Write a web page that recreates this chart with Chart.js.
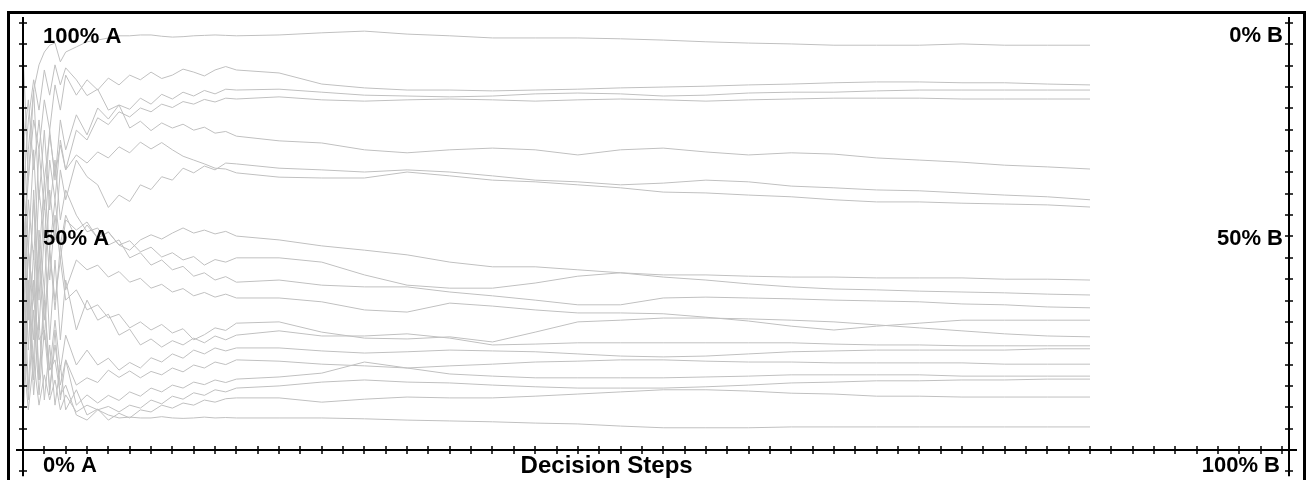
<!DOCTYPE html>
<html>
<head>
<meta charset="utf-8">
<script src="https://cdn.jsdelivr.net/npm/chart.js@4/dist/chart.umd.min.js"></script>
<style>
	html, body { margin: 0; padding: 0; background: #fff; }
	#frame { position: absolute; left: 7px; top: 11px; width: 1293px; height: 520px; border: 3px solid #000; }
	#wrap { position: absolute; left: 0; top: 0; width: 1312px; height: 480px; }
</style>
</head>
<body>
<div id="frame"></div>
<div id="wrap"><canvas id="canRuns" width="1312" height="480"></canvas></div>
<script>
'use strict'

//----------------------------------------------------------------------
// data : share of choice A [%] per decision step (x = step in tick units)
const STEPS = [0, 0.25, 0.5, 0.75, 1, 1.25, 1.5, 1.75, 2,
	2.5, 3, 3.5, 4, 4.5, 5, 5.5, 6, 6.5, 7, 7.5, 8, 8.5, 9, 9.5, 10,
	12, 14, 16, 18, 20, 22, 24, 26, 28, 30, 32, 34, 36, 38, 40, 42, 44, 46, 48, 50];

const run01 = [35.1, 70.3, 84.3, 90.2, 93.2, 94.8, 95.3, 90.9, 93.2,
	94.4, 95.6, 96.0, 96.5, 97.0, 97.0, 97.2, 97.2, 96.9, 96.7, 96.8, 97.0, 97.1, 97.2, 97.1, 97.0,
	97.2, 97.7, 98.1, 97.4, 97.0, 96.5, 96.5, 96.5, 96.3, 96.0, 95.6, 95.3, 95.1, 94.8, 94.8, 94.8, 95.1, 94.8, 94.8, 94.8];
const run02 = [46.8, 63.2, 77.3, 70.3, 82.0, 74.9, 85.5, 79.6, 87.8,
	83.1, 86.7, 84.3, 87.1, 85.5, 87.8, 86.7, 88.5, 87.0, 87.8, 89.2, 88.5, 87.6, 89.0, 89.8, 89.0,
	88.3, 85.7, 84.8, 84.3, 84.3, 84.1, 84.3, 84.5, 84.8, 85.0, 85.2, 85.5, 85.7, 86.0, 86.2, 86.2, 86.0, 86.0, 85.7, 85.5];
const run03 = [23.4, 58.6, 44.5, 70.3, 56.2, 74.9, 63.2, 77.3, 70.3,
	78.5, 73.8, 80.1, 77.5, 80.8, 79.8, 82.4, 81.0, 83.3, 82.2, 83.8, 82.9, 84.2, 83.4, 84.5, 84.3,
	84.5, 83.8, 83.1, 82.9, 82.7, 82.9, 83.4, 83.6, 83.4, 82.9, 83.1, 83.6, 83.8, 83.8, 84.1, 84.3, 84.3, 84.3, 84.3, 84.3];
const run04 = [16.4, 46.8, 35.1, 60.9, 49.2, 67.9, 58.6, 72.6, 65.6,
	74.9, 72.6, 77.8, 76.2, 79.2, 78.0, 80.1, 79.2, 81.0, 80.2, 81.6, 81.0, 82.1, 81.5, 82.4, 82.2,
	82.7, 82.0, 81.7, 82.0, 82.2, 82.0, 81.7, 82.0, 82.2, 82.0, 81.7, 82.0, 82.2, 82.4, 82.4, 82.4, 82.2, 82.2, 82.2, 82.2];
const run05 = [58.6, 77.3, 86.7, 79.6, 89.0, 83.1, 90.2, 85.5, 89.5,
	86.7, 83.0, 84.5, 79.6, 80.8, 75.4, 77.0, 74.8, 76.6, 75.4, 76.3, 74.9, 75.6, 74.2, 74.6, 73.5,
	72.4, 71.9, 70.3, 69.6, 70.3, 70.7, 70.3, 69.1, 70.3, 70.7, 69.8, 69.1, 69.6, 69.3, 68.4, 67.9, 67.4, 66.7, 66.3, 65.8];
const run06 = [7.0, 35.1, 21.1, 51.5, 37.5, 60.9, 49.2, 65.6, 58.6,
	67.9, 64.0, 62.1, 56.8, 59.7, 58.2, 62.1, 61.0, 64.0, 63.2, 66.0, 64.9, 66.5, 65.6, 67.2, 67.0,
	66.0, 65.6, 65.1, 65.6, 65.1, 64.2, 63.2, 62.8, 62.1, 62.5, 63.2, 62.8, 61.8, 61.4, 60.9, 60.7, 60.2, 59.7, 59.3, 58.6];
const run07 = [70.3, 82.0, 65.6, 77.3, 63.2, 73.8, 64.4, 71.4, 65.6,
	69.1, 67.2, 69.8, 68.4, 71.0, 69.6, 72.1, 70.5, 72.0, 70.3, 68.8, 67.9, 67.0, 66.0, 65.8, 64.9,
	63.9, 63.7, 63.7, 65.1, 64.2, 63.2, 62.8, 62.1, 61.4, 60.4, 60.2, 59.7, 59.3, 58.6, 58.1, 58.1, 57.8, 57.6, 57.4, 56.9];
const run08 = [82.0, 46.8, 70.3, 44.5, 63.2, 46.8, 58.6, 48.0, 55.0,
	49.2, 52.7, 49.6, 51.1, 48.0, 46.8, 49.2, 50.4, 49.4, 50.8, 52.0, 50.8, 51.5, 50.6, 51.2, 50.1,
	49.2, 47.8, 46.8, 45.7, 44.0, 42.9, 42.9, 42.2, 41.5, 41.0, 41.0, 40.7, 40.5, 40.5, 40.3, 40.3, 40.3, 40.0, 40.0, 39.8];
const run09 = [58.6, 30.4, 60.9, 35.1, 58.6, 39.8, 55.0, 44.5, 53.9,
	51.5, 53.4, 49.6, 51.0, 48.0, 49.0, 46.4, 47.5, 45.2, 46.2, 44.5, 45.3, 43.3, 44.6, 44.0, 45.0,
	45.0, 44.0, 41.0, 38.6, 37.9, 37.9, 39.1, 40.7, 41.5, 40.5, 39.8, 38.9, 38.2, 37.7, 37.5, 37.2, 37.0, 36.8, 36.5, 36.3];
const run10 = [93.7, 63.2, 84.3, 58.6, 74.9, 56.2, 67.9, 53.9, 60.9,
	55.0, 51.1, 52.0, 48.0, 49.2, 45.0, 46.2, 43.3, 44.5, 42.2, 43.0, 40.7, 41.5, 39.8, 40.6, 39.3,
	39.8, 38.6, 38.2, 38.2, 37.0, 36.1, 35.1, 34.0, 34.0, 35.6, 35.8, 35.6, 35.4, 35.1, 34.9, 34.7, 34.2, 34.0, 33.5, 33.3];
const run11 = [7.0, 39.8, 16.4, 44.5, 25.8, 46.8, 32.8, 48.0, 37.5,
	44.5, 42.2, 43.3, 40.5, 41.8, 39.3, 40.2, 37.9, 38.8, 37.0, 37.8, 36.1, 36.9, 35.8, 36.5, 35.6,
	35.6, 34.7, 32.8, 32.3, 34.4, 33.7, 32.8, 32.1, 32.1, 31.9, 31.1, 30.2, 29.0, 28.1, 29.0, 29.7, 30.4, 30.4, 30.4, 30.4];
const run12 = [16.4, 46.8, 25.8, 49.2, 30.4, 46.8, 35.1, 44.5, 35.1,
	37.5, 32.8, 34.0, 30.9, 31.8, 28.6, 30.0, 28.1, 29.4, 27.4, 28.4, 25.8, 27.0, 28.6, 28.0, 29.7,
	30.0, 27.6, 26.2, 26.0, 26.5, 25.3, 27.6, 30.0, 30.4, 30.9, 30.9, 30.7, 30.4, 30.0, 29.3, 28.6, 27.9, 27.2, 26.7, 26.5];
const run13 = [70.3, 35.1, 58.6, 28.1, 51.5, 25.8, 44.5, 25.8, 39.8,
	28.1, 35.1, 30.4, 31.8, 26.9, 28.3, 24.6, 26.0, 24.1, 25.6, 24.6, 26.2, 25.1, 26.7, 25.8, 26.9,
	27.9, 26.7, 26.7, 27.2, 26.2, 24.6, 24.8, 25.1, 25.1, 25.1, 25.1, 25.1, 25.1, 24.8, 24.6, 24.6, 24.4, 24.4, 24.4, 24.4];
const run14 = [46.8, 14.1, 39.8, 16.4, 35.1, 18.7, 30.4, 18.7, 26.9,
	19.9, 23.4, 19.9, 21.5, 18.7, 20.5, 19.2, 21.6, 20.6, 22.5, 21.5, 23.4, 22.5, 23.9, 23.2, 23.9,
	23.9, 23.2, 22.7, 23.0, 23.4, 23.2, 23.0, 22.5, 22.0, 21.8, 22.0, 22.5, 23.0, 23.2, 23.4, 23.4, 23.4, 23.4, 23.7, 23.7];
const run15 = [35.1, 11.7, 32.8, 12.9, 28.1, 14.1, 24.6, 15.2, 21.1,
	15.2, 16.9, 15.8, 18.7, 17.0, 18.5, 16.9, 18.4, 17.6, 19.2, 18.3, 19.9, 19.2, 20.6, 20.0, 21.1,
	20.8, 20.1, 19.7, 19.2, 19.7, 20.1, 20.6, 20.8, 21.1, 21.1, 20.8, 20.6, 20.6, 20.4, 20.4, 20.4, 20.4, 20.1, 20.1, 20.1];
const run16 = [58.6, 23.4, 46.8, 16.4, 37.5, 12.9, 28.1, 11.7, 21.1,
	10.5, 12.9, 11.0, 12.8, 11.6, 13.6, 12.6, 14.5, 13.6, 15.2, 14.5, 15.9, 15.3, 16.4, 15.8, 16.6,
	17.1, 18.0, 20.6, 19.2, 17.8, 17.3, 16.9, 16.9, 16.9, 16.9, 17.1, 17.3, 17.6, 17.6, 17.6, 17.6, 17.3, 17.3, 17.3, 17.3];
const run17 = [23.4, 9.4, 21.1, 10.5, 17.6, 11.7, 16.4, 9.4, 12.9,
	8.9, 10.5, 9.4, 10.2, 8.9, 10.5, 9.8, 11.7, 10.8, 12.6, 11.9, 13.4, 12.8, 14.1, 13.6, 14.5,
	15.0, 15.9, 16.4, 15.9, 15.7, 15.2, 14.8, 14.5, 14.5, 14.5, 14.8, 15.2, 15.7, 15.9, 16.2, 16.2, 16.4, 16.4, 16.6, 16.6];
const run18 = [16.4, 35.1, 12.9, 30.4, 11.7, 24.6, 10.5, 19.9, 9.4,
	14.1, 8.2, 9.6, 7.0, 8.6, 7.5, 9.4, 8.9, 10.5, 9.8, 11.0, 10.5, 11.7, 11.2, 12.0, 12.2,
	12.2, 11.2, 11.9, 12.4, 12.2, 12.2, 12.6, 13.1, 13.6, 14.1, 14.1, 13.8, 13.3, 13.1, 12.6, 12.6, 12.4, 12.4, 12.4, 12.4];
const run19 = [63.2, 46.8, 35.1, 25.8, 28.1, 18.7, 21.1, 12.9, 15.2,
	8.2, 7.0, 9.4, 8.2, 7.5, 7.7, 7.5, 7.5, 7.8, 7.5, 7.4, 7.5, 7.7, 7.5, 7.6, 7.5,
	7.5, 7.5, 7.3, 7.0, 6.8, 6.6, 6.3, 6.1, 5.6, 5.2, 5.2, 5.2, 5.4, 5.4, 5.4, 5.4, 5.4, 5.4, 5.4, 5.4];

const RUNS = [run01, run02, run03, run04, run05, run06, run07, run08, run09, run10,
	run11, run12, run13, run14, run15, run16, run17, run18, run19];

// axis marks
const Y_TICKS = [100, 95, 90, 85, 80, 75, 70, 65, 60, 55, 50, 45, 40, 35, 30, 25, 20, 15, 10, 5, 0, -5];
const X_TICK_LAST = 59;      // last tick on the step axis
const X_RIGHT_AXIS = 59.32;  // B side axis position
const LABELS_LEFT = [['100% A', 100], ['50% A', 50], ['0% A', 0]];
const LABELS_RIGHT = [['0% B', 100], ['50% B', 50], ['100% B', 0]];
const X_TITLE = 'Decision Steps';

//----------------------------------------------------------------------
// axes + labels (drawn through the chart scales)
const axesPlugin = {
	id: 'crossAxes',
	afterDatasetsDraw(chart) {
		const ctx = chart.ctx;
		const sx = chart.scales.x;
		const sy = chart.scales.y;
		const x0 = Math.round(sx.getPixelForValue(0));
		const xR = Math.round(sx.getPixelForValue(X_RIGHT_AXIS));
		const y0 = Math.round(sy.getPixelForValue(0));
		const yTop = sy.getPixelForValue(100) - 6;
		const yBot = sy.getPixelForValue(-5) + 5;

		ctx.save();
		ctx.strokeStyle = '#000';
		ctx.lineWidth = 2;
		ctx.beginPath();
		// vertical axes
		ctx.moveTo(x0, yTop); ctx.lineTo(x0, yBot);
		ctx.moveTo(xR, yTop); ctx.lineTo(xR, yBot);
		// horizontal axis
		ctx.moveTo(x0 - 7, y0); ctx.lineTo(xR + 8, y0);
		ctx.stroke();

		ctx.lineWidth = 1.5;
		ctx.beginPath();
		for (const v of Y_TICKS) {
			const y = Math.round(sy.getPixelForValue(v));
			ctx.moveTo(x0 - 4, y); ctx.lineTo(x0 + 4, y);
			ctx.moveTo(xR - 4, y); ctx.lineTo(xR + 4, y);
		}
		for (let i = 1; i <= X_TICK_LAST; i++) {
			const x = Math.round(sx.getPixelForValue(i));
			ctx.moveTo(x, y0 - 4); ctx.lineTo(x, y0 + 4);
		}
		ctx.stroke();

		ctx.fillStyle = '#000';
		ctx.font = 'bold 22px "Liberation Sans", Arial, sans-serif';
		ctx.textBaseline = 'alphabetic';
		ctx.textAlign = 'left';
		for (const [t, v] of LABELS_LEFT) {
			const y = sy.getPixelForValue(v);
			ctx.fillText(t, x0 + 20, v === 0 ? y + 22 : y + (v === 50 ? 9 : 20));
		}
		ctx.textAlign = 'right';
		for (const [t, v] of LABELS_RIGHT) {
			const y = sy.getPixelForValue(v);
			ctx.fillText(t, xR - 6 - (v === 0 ? 3 : 0), v === 0 ? y + 22 : y + (v === 50 ? 9 : 19));
		}
		ctx.textAlign = 'center';
		ctx.font = 'bold 24px "Liberation Sans", Arial, sans-serif';
		ctx.fillText(X_TITLE, sx.getPixelForValue(27.35), y0 + 23);
		ctx.restore();
	}
};

const canRuns = document.getElementById('canRuns');
const ctxRuns = canRuns.getContext('2d');

let datasetsRuns = RUNS.map((r) => ({
	data: r.map((v, i) => ({ x: STEPS[i], y: v })),
	borderColor: 'rgb(192,192,192)',
	borderWidth: 1,
	pointRadius: 0,
	tension: 0,
	fill: false
}));

let myChartRuns = new Chart(ctxRuns, {
	type: 'line',
	data: { datasets: datasetsRuns },
	options: {
		responsive: false,
		animation: false,
		layout: { padding: { left: 16, right: 15, top: 16, bottom: 0 } },
		plugins: { legend: { display: false }, tooltip: { enabled: false } },
		scales: {
			x: { type: 'linear', min: -0.328, max: 59.70, display: false },
			y: { type: 'linear', min: -7.03, max: 101.64, display: false }
		}
	},
	plugins: [axesPlugin]
});
</script>
</body>
</html>
